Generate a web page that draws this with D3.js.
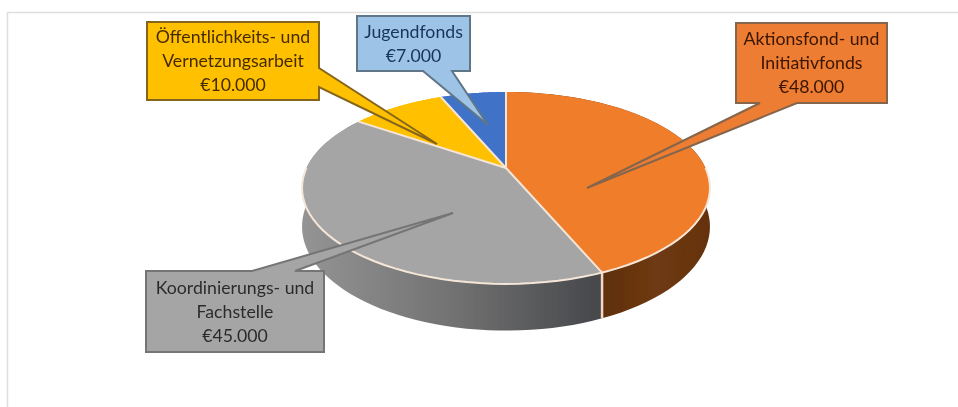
<!DOCTYPE html>
<html>
<head>
<meta charset="utf-8">
<script src="https://cdn.jsdelivr.net/npm/d3@7"></script>
<style>
    html, body { margin: 0; padding: 0; background: #fff; }
    svg { display: block; }
    text { font-family: Lato, "Open Sans", sans-serif; font-size: 17.7px; text-anchor: middle; }
</style>
</head>
<body>
<svg id="drawing_region"></svg>
<script>
// starts at 12 o'clock, clockwise
const categories = ["Aktionsfond- und Initiativfonds", "Koordinierungs- und Fachstelle", "Öffentlichkeits- und Vernetzungsarbeit", "Jugendfonds"];
const values = [48000, 45000, 10000, 7000];
const labelLines = [
    ["Aktionsfond- und", "Initiativfonds"],
    ["Koordinierungs- und", "Fachstelle"],
    ["Öffentlichkeits- und", "Vernetzungsarbeit"],
    ["Jugendfonds"]
];
const fills = ["#ef7d2a", "#a5a5a5", "#ffc000", "#3f72c8"];
const boxFills = ["#ed7d31", "#a5a5a5", "#ffc000", "#9dc3e6"];
const boxStrokes = ["#85654c", "#747474", "#85651c", "#5f7488"];
const textColors = ["#3a1503", "#2c2c2c", "#452c00", "#183458"];
const wallStops = [
    ["#5e2f0d", "#6e3a12", "#643210"],
    ["#949494", "#727272", "#45474a"],
    ["#ffc000", "#ffc000", "#ffc000"],
    ["#3f72c8", "#3f72c8", "#3f72c8"]
];

const euro = v => "€" + d3.format(",")(v).replace(",", ".");

const width = 958, height = 407;
const pieGeom = { cx: 506, cy: 168, w: 199.5, h: 91.8, k: 0.208, depth: 37 };

// box and pointer layout of the callouts, pixels
const callouts = [
    { x: 736, y: 23, w: 151, h: 80, side: "bottom", a: 760, b: 797, tip: [587, 188] },
    { x: 146, y: 271, w: 178, h: 81, side: "top", a: 295, b: 252, tip: [453, 213] },
    { x: 147, y: 22, w: 172, h: 78, side: "right", a: 68, b: 87, tip: [437, 144] },
    { x: 357, y: 16, w: 113, h: 55, side: "bottom", a: 423, b: 452, tip: [488, 125] }
];

const svg = d3.select("#drawing_region").attr("width", width).attr("height", height);
const defs = svg.append("defs");
defs.append("filter").attr("id", "soft")
    .append("feGaussianBlur").attr("stdDeviation", 0.6);

// frame of the chart area
svg.append("path")
    .attr("d", `M7.5,${height}V12.5H${width}`)
    .attr("fill", "none").attr("stroke", "#dedede").attr("stroke-width", 1.5);

const chart = svg.append("g").attr("filter", "url(#soft)");

// tilted disc: angle from 12 o'clock, clockwise, perspective towards the front
function project(a, r, drop) {
    const u = r * Math.sin(a), v = r * Math.cos(a);
    const s = 1 / (1 + pieGeom.k * v);
    return [pieGeom.cx + pieGeom.w * u * s, pieGeom.cy - pieGeom.h * v * s + (drop || 0) * s];
}
const arcPoints = (a0, a1, drop) => d3.range(0, 61).map(i => project(a0 + (a1 - a0) * i / 60, 1, drop));

const pie = d3.pie().sort(null);
const slices = pie(values);
const line = d3.line().curve(d3.curveLinearClosed);
const openLine = d3.line();
const seamColor = "#f6e6d8";

// walls first, the top faces cover the back part
slices.forEach((d, i) => {
    const top = arcPoints(d.startAngle, d.endAngle, 0);
    const bottom = arcPoints(d.startAngle, d.endAngle, pieGeom.depth).reverse();
    const xs = top.map(p => p[0]);
    const grad = defs.append("linearGradient").attr("id", "wall" + i)
        .attr("gradientUnits", "userSpaceOnUse")
        .attr("x1", i === 1 ? d3.min(xs) : project(d.endAngle, 1)[0])
        .attr("x2", i === 1 ? project(d.startAngle, 1)[0] : d3.max(xs))
        .attr("y1", 0).attr("y2", 0);
    wallStops[i].forEach((c, j) => {
        grad.append("stop").attr("offset", j / 2).attr("stop-color", c);
    });
    chart.append("path")
        .attr("d", line(top.concat(bottom)))
        .attr("fill", `url(#wall${i})`)
        .attr("stroke", "none");
});

// seam between the two front walls
const seam = slices[0].endAngle;
chart.append("path")
    .attr("d", openLine([project(seam, 1, 0), project(seam, 1, pieGeom.depth)]))
    .attr("stroke", "#f1d9c6").attr("stroke-width", 2.5).attr("fill", "none");

// top faces
slices.forEach((d, i) => {
    const pts = [project(0, 0)].concat(arcPoints(d.startAngle, d.endAngle, 0));
    chart.append("path")
        .attr("d", line(pts))
        .attr("fill", fills[i]);
});

// pale edges: the radii and only the front part of the rim
slices.forEach(d => {
    chart.append("path")
        .attr("d", openLine([project(0, 0), project(d.startAngle, 1)]))
        .attr("stroke", seamColor).attr("stroke-width", 2).attr("fill", "none");
});
chart.append("path")
    .attr("d", openLine(arcPoints(Math.PI * 0.5, Math.PI * 1.5, 0)))
    .attr("stroke", seamColor).attr("stroke-width", 2).attr("fill", "none");

// callouts with their pointers
callouts.forEach((c, i) => {
    const right = c.x + c.w, lower = c.y + c.h;
    let pts;
    if (c.side === "bottom") {
        pts = [[c.x, c.y], [right, c.y], [right, lower], [c.b, lower], c.tip, [c.a, lower], [c.x, lower]];
    } else if (c.side === "top") {
        pts = [[c.x, c.y], [c.b, c.y], c.tip, [c.a, c.y], [right, c.y], [right, lower], [c.x, lower]];
    } else {
        pts = [[c.x, c.y], [right, c.y], [right, c.a], c.tip, [right, c.b], [right, lower], [c.x, lower]];
    }
    chart.append("path")
        .attr("d", line(pts))
        .attr("fill", boxFills[i])
        .attr("stroke", boxStrokes[i])
        .attr("stroke-width", 2)
        .attr("stroke-linejoin", "miter")
        .attr("stroke-miterlimit", 3);

    const rows = labelLines[i].concat(euro(values[i]));
    const rowHeight = 24;
    const firstY = c.y + c.h / 2 - rowHeight * (rows.length - 1) / 2 + 6;
    chart.append("text")
        .attr("aria-label", categories[i])
        .attr("fill", textColors[i])
        .selectAll("tspan")
        .data(rows)
        .join("tspan")
        .attr("x", c.x + c.w / 2)
        .attr("y", (t, j) => firstY + j * rowHeight)
        .text(t => t);
});
</script>
</body>
</html>
